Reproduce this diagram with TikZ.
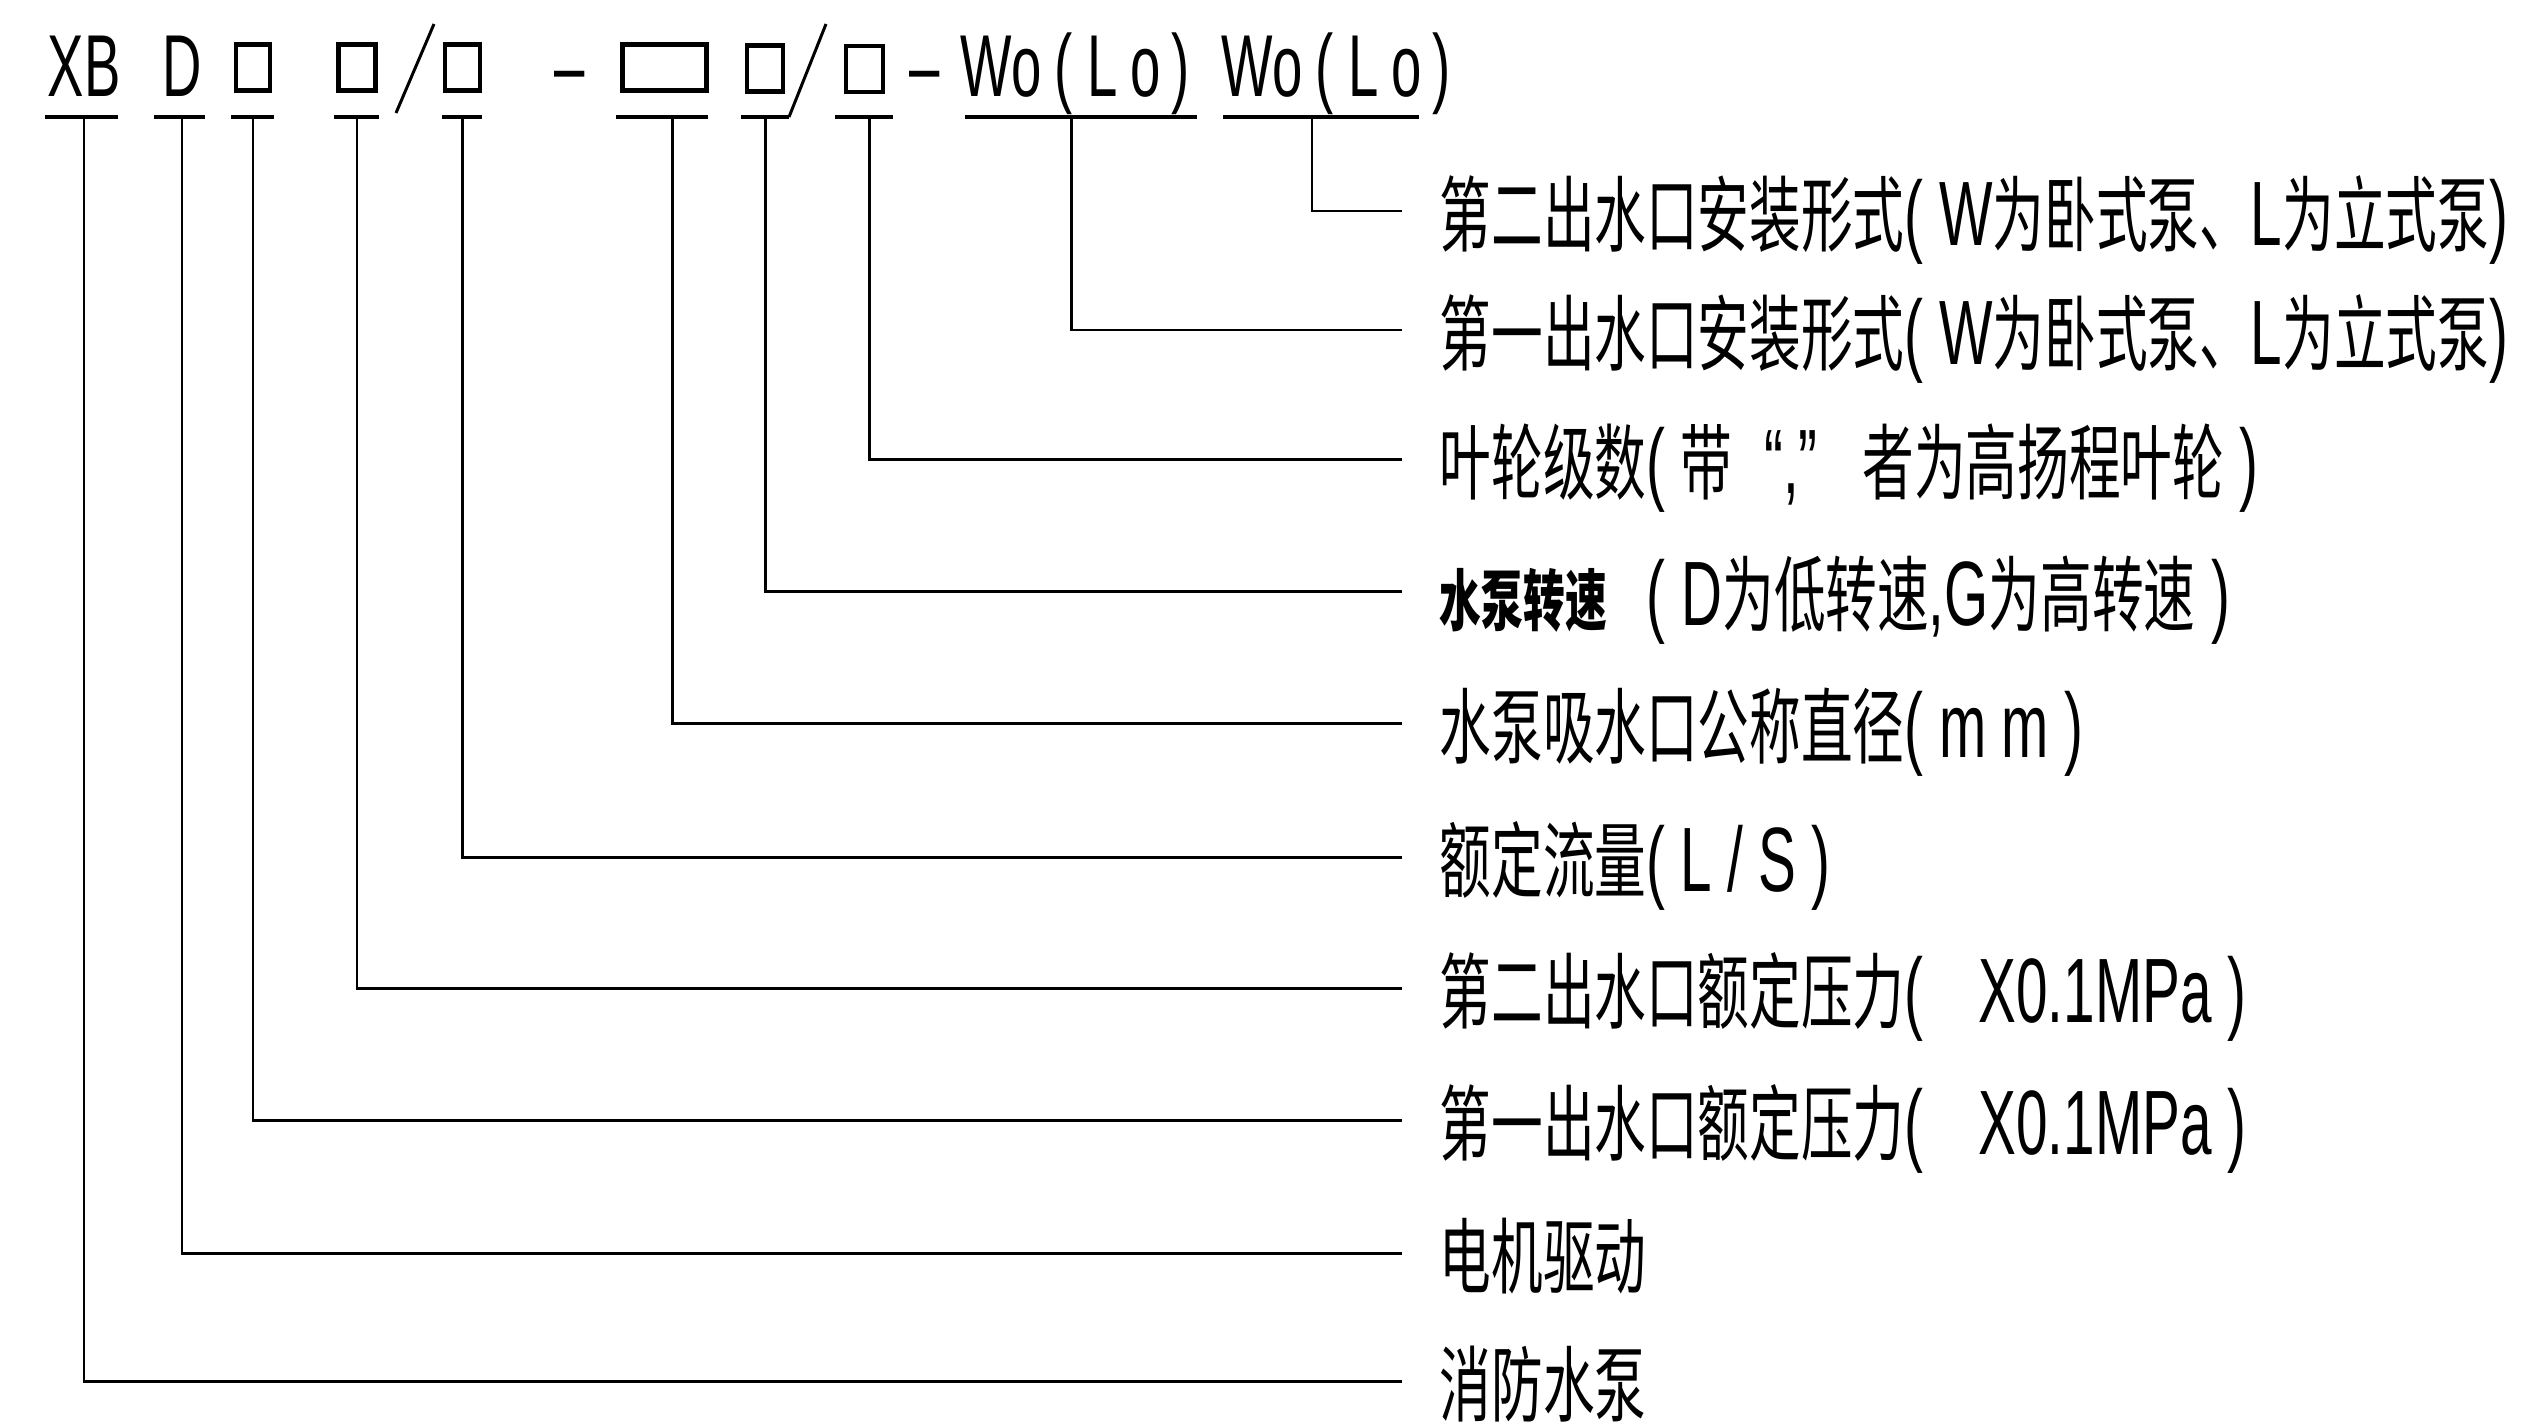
\documentclass[tikz,border=0pt]{standalone}
\usepackage{fontspec}
\newfontfamily\codefont{Liberation Sans}[FakeStretch=0.62]
\newfontfamily\cjkfont{Noto Sans CJK SC}[FakeStretch=0.625]
\newcommand\codetxt[1]{{\fontsize{26}{28}\selectfont\codefont #1}}
\newcommand\wolo{Wo\hspace{.13cm}(\hspace{.15cm}L\hspace{.13cm}o\hspace{.1cm})}

\begin{document}
\begin{tikzpicture}[x=0.01cm,y=-0.01cm,
    code/.style={font=\fontsize{25}{28}\selectfont\codefont, inner sep=0pt,
      anchor=base},
    slot/.style={draw, line width=1.2pt, inner sep=0pt, minimum height=.46cm},
    bar/.style={line width=1.2pt},
    lead/.style={line width=.85pt},
    descr/.style={font=\fontsize{23.5}{26}\selectfont\cjkfont, anchor=west,
      inner xsep=.37cm, inner ysep=0pt, text height=.78cm, text depth=.1cm}]
  \useasboundingbox (0,0) rectangle (2536,1424);

  % type code
  \node[code] (xb) at (84,96) {XB};
  \node[code] (d) at (182,96) {D};
  \node[slot, minimum width=.34cm] (p1) at (253,67.5) {};
  \node[slot, minimum width=.37cm] (p2) at (357,67.5) {};
  \node[slot, minimum width=.35cm] (q) at (462.5,67.5) {};
  \node[code] (dash1) at (570,96) {–};
  \node[slot, minimum width=.84cm] (dn) at (664.5,67.5) {};
  \node[slot, minimum width=.36cm] (n) at (765,68.5) {};
  \node[slot, minimum width=.37cm] (st) at (864.5,69) {};
  \node[code] (dash2) at (925,96) {–};
  \node[code] (wl1) at (1075,96) {\wolo};
  \node[code] (wl2) at (1336,96) {\wolo};
  \draw[lead] (396,113) -- (434,24);
  \draw[lead] (789,117) -- (826,24);

  % underlines
  \foreach \a/\b in {45/118, 154/205, 231/274, 334/379, 442/482, 616/708,
      741/789, 835/893, 965/1197, 1223/1419}
    \draw[bar] (\a,117) -- (\b,117);
  \coordinate (ul) at (0,117);

  % descriptions
  \node[descr] (inst2) at (1402,211)
    {第二出水口安装形式\codetxt{(\ W}为卧式泵、\codetxt{L}为立式泵\codetxt{)}};
  \node[descr] (inst1) at (1402,330)
    {第一出水口安装形式\codetxt{(\ W}为卧式泵、\codetxt{L}为立式泵\codetxt{)}};
  \node[descr] (stages) at (1402,459)
    {叶轮级数\codetxt{(\ }带\codetxt{\ \ “,”}\hspace{.45cm}者为高扬程叶轮\codetxt{\ )}};
  \node[descr] (speed) at (1402,591)
    {{\fontsize{19}{22}\selectfont\bfseries 水泵转速}\hspace{.4cm}\codetxt{(\ D}为低转速\codetxt{,G}为高转速\codetxt{\ )}};
  \node[descr] (bore) at (1402,723)
    {水泵吸水口公称直径\codetxt{(\ m\,m\ )}};
  \node[descr] (flow) at (1402,857)
    {额定流量\codetxt{(\,L\,/\,S\,)}};
  \node[descr] (pres2) at (1402,988)
    {第二出水口额定压力\codetxt{(}\hspace{.55cm}\codetxt{X0.1MPa\ )}};
  \node[descr] (pres1) at (1402,1120)
    {第一出水口额定压力\codetxt{(}\hspace{.55cm}\codetxt{X0.1MPa\ )}};
  \node[descr] (drive) at (1402,1253) {电机驱动};
  \node[descr] (pump) at (1402,1381) {消防水泵};

  % leaders
  \foreach \src/\dx/\dst in {xb/0/pump, d/0/drive, p1/0/pres1, p2/0/pres2,
      q/0/flow, dn/.08/bore, n/0/speed, st/.05/stages, wl1/-.04/inst1,
      wl2/-.24/inst2}
    \draw[lead] ([xshift=\dx cm]\src |- ul) |- (\dst.west);
\end{tikzpicture}
\end{document}
